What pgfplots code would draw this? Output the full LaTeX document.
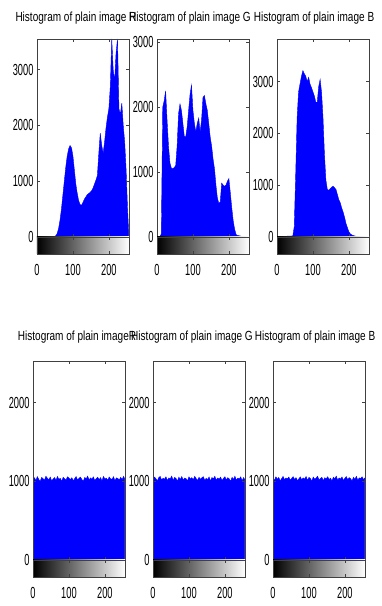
\documentclass[border=0pt]{standalone}
\usepackage{fontspec}
\setmainfont{Liberation Sans}
\newfontfamily\tickfont{Liberation Sans}[FakeStretch=0.58]
\newfontfamily\titlefont{Liberation Sans}[FakeStretch=0.76]
\usepackage{pgfplots}
\pgfplotsset{compat=1.18}
\definecolor{histblue}{RGB}{0,0,255}
\pgfplotsset{
  common/.style={
    scale only axis, width=92pt, xmin=0, xmax=256,
    axis on top,
    tick align=inside, major tick length=3pt,
    axis line style={line width=0.8pt, black!75},
    tick style={line width=0.6pt, black!75},
    /pgf/number format/assume math mode=true,
    /pgf/number format/1000 sep={},
    scaled y ticks=false, scaled x ticks=false,
    ticklabel style={font=\tickfont\fontsize{16}{16}\selectfont},
  },
  hist/.style={common, ymin=0,
    xtick={100,200}, xticklabels={}, xtick pos=both, ytick pos=both, yticklabel pos=left},
  grad/.style={common, height=17pt, ymin=0, ymax=1, ytick=\empty,
    xtick={0,100,200}, xtick pos=both, xticklabel pos=left,
    xticklabel style={yshift=-7pt}},
}
\begin{document}
\begin{tikzpicture}
\useasboundingbox (0,0) rectangle (382pt,606pt);
% ---------- titles ----------
\begin{scope}[every node/.style={font=\titlefont\fontsize{13.2}{13.2}\selectfont, anchor=base, inner sep=0pt}]
\node at (76pt,584pt) {Histogram of plain image R};
\node at (190pt,584pt) {Histogram of plain image G};
\node at (314pt,584pt) {Histogram of plain image B};
\node at (77pt,265pt) {Histogram of plain imageR};
\node at (192pt,265pt) {Histogram of plain image G};
\node at (315pt,265pt) {Histogram of plain image B};
\end{scope}
% ---------- top row: plain image ----------
\begin{axis}[hist, at={(37pt,369pt)}, anchor=south west, height=198pt, ymax=3550, ytick={0,1000,2000,3000}]
\addplot[draw=histblue, fill=histblue, line width=0.4pt] coordinates {
(0,0)(4,0)(8,0)(12,0)(16,0)(20,0)(24,0)(28,0)(32,0)(36,0)(40,0)(44,5)(48,10)(52,20)(56,60)(60,150)(64,300)(68,500)(72,750)(76,1000)(80,1250)(84,1450)(88,1580)(92,1640)(96,1600)(100,1450)(104,1200)(108,950)(112,780)(116,650)(120,580)(124,570)(128,620)(132,680)(136,720)(140,760)(144,780)(148,800)(152,830)(156,880)(160,950)(164,1020)(168,1100)(172,1500)(176,1860)(180,1650)(184,1500)(188,1700)(192,1950)(196,2150)(200,2300)(204,2700)(208,3550)(212,3000)(216,2800)(220,3300)(224,3550)(228,2300)(232,2200)(236,2400)(240,2000)(244,1700)(248,1200)(252,500)(255,100)
} \closedcycle;
\end{axis}
\begin{axis}[grad, at={(37pt,352pt)}, anchor=south west]
\fill[left color=black, right color=white] (axis cs:0,0) rectangle (axis cs:256,1);
\end{axis}

\begin{axis}[hist, at={(157pt,369pt)}, anchor=south west, height=198pt, ymax=3050, ytick={0,1000,2000,3000}]
\addplot[draw=histblue, fill=histblue, line width=0.4pt] coordinates {
(0,0)(4,0)(8,0)(12,50)(16,2000)(20,2100)(24,2250)(28,1800)(32,1400)(36,1140)(40,1060)(44,1050)(48,1070)(52,1100)(56,1400)(60,1900)(64,2050)(68,1950)(72,1750)(76,1550)(80,1540)(84,1700)(88,1950)(92,2200)(96,2340)(100,1950)(104,1750)(108,1620)(112,1750)(116,1830)(120,1620)(124,1800)(128,2150)(132,2180)(136,2050)(140,1950)(144,1750)(148,1540)(152,1400)(156,1200)(160,1050)(164,800)(168,600)(172,520)(176,540)(180,830)(184,800)(188,780)(192,800)(196,860)(200,900)(204,680)(208,450)(212,250)(216,120)(220,40)(224,20)(228,20)(232,15)(236,10)(240,10)(244,5)(248,0)(252,0)(255,0)
} \closedcycle;
\end{axis}
\begin{axis}[grad, at={(157pt,352pt)}, anchor=south west]
\fill[left color=black, right color=white] (axis cs:0,0) rectangle (axis cs:256,1);
\end{axis}

\begin{axis}[hist, at={(277pt,369pt)}, anchor=south west, height=198pt, ymax=3820, ytick={0,1000,2000,3000}]
\addplot[draw=histblue, fill=histblue, line width=0.4pt] coordinates {
(0,0)(4,10)(8,10)(12,12)(16,12)(20,15)(24,15)(28,15)(32,18)(36,18)(40,20)(44,20)(48,200)(52,1200)(56,2300)(60,2800)(64,2950)(68,3100)(72,3210)(76,3150)(80,3100)(84,3000)(88,3080)(92,2950)(96,2880)(100,2800)(104,2720)(108,2600)(112,2600)(116,2900)(120,3040)(124,2790)(128,2300)(132,1600)(136,1100)(140,920)(144,900)(148,930)(152,960)(156,980)(160,950)(164,920)(168,820)(172,720)(176,660)(180,560)(184,480)(188,380)(192,260)(196,180)(200,100)(204,60)(208,40)(212,30)(216,20)(220,15)(224,10)(228,5)(232,0)(236,0)(240,0)(244,0)(248,0)(252,0)(255,0)
} \closedcycle;
\end{axis}
\begin{axis}[grad, at={(277pt,352pt)}, anchor=south west]
\fill[left color=black, right color=white] (axis cs:0,0) rectangle (axis cs:256,1);
\end{axis}

% ---------- bottom row: cipher image ----------
\begin{axis}[hist, at={(33pt,46pt)}, anchor=south west, height=199pt, ymax=2530, ytick={0,1000,2000}]
\addplot[draw=histblue, fill=histblue, line width=0.4pt] coordinates {
(0,1030)(4,1045)(8,1010)(12,1060)(16,1025)(20,1000)(24,1050)(28,1035)(32,1015)(36,1065)(40,1040)(44,1020)(48,1055)(52,1005)(56,1030)(60,1048)(64,1012)(68,1062)(72,1027)(76,1038)(80,1002)(84,1052)(88,1033)(92,1018)(96,1058)(100,1042)(104,1022)(108,1046)(112,1008)(116,1034)(120,1061)(124,1016)(128,1039)(132,1054)(136,1024)(140,1004)(144,1049)(148,1031)(152,1066)(156,1019)(160,1043)(164,1028)(168,1057)(172,1011)(176,1036)(180,1053)(184,1021)(188,1047)(192,1006)(196,1063)(200,1029)(204,1041)(208,1014)(212,1056)(216,1032)(220,1026)(224,1059)(228,1009)(232,1044)(236,1037)(240,1017)(244,1051)(248,1023)(252,1064)(255,1035)
} \closedcycle;
\end{axis}
\begin{axis}[grad, at={(33pt,29pt)}, anchor=south west]
\fill[left color=black, right color=white] (axis cs:0,0) rectangle (axis cs:256,1);
\end{axis}

\begin{axis}[hist, at={(153pt,46pt)}, anchor=south west, height=199pt, ymax=2530, ytick={0,1000,2000}]
\addplot[draw=histblue, fill=histblue, line width=0.4pt] coordinates {
(0,1020)(4,1055)(8,1035)(12,1005)(16,1048)(20,1062)(24,1018)(28,1040)(32,1027)(36,1058)(40,1009)(44,1044)(48,1031)(52,1066)(56,1014)(60,1050)(64,1038)(68,1003)(72,1053)(76,1025)(80,1061)(84,1016)(88,1042)(92,1034)(96,1007)(100,1057)(104,1029)(108,1047)(112,1019)(116,1063)(120,1036)(124,1011)(128,1052)(132,1026)(136,1045)(140,1060)(144,1013)(148,1039)(152,1022)(156,1056)(160,1004)(164,1049)(168,1032)(172,1064)(176,1017)(180,1043)(184,1028)(188,1054)(192,1010)(196,1037)(200,1059)(204,1021)(208,1046)(212,1033)(216,1001)(220,1051)(224,1024)(228,1065)(232,1015)(236,1041)(240,1030)(244,1057)(248,1008)(252,1048)(255,1026)
} \closedcycle;
\end{axis}
\begin{axis}[grad, at={(153pt,29pt)}, anchor=south west]
\fill[left color=black, right color=white] (axis cs:0,0) rectangle (axis cs:256,1);
\end{axis}

\begin{axis}[hist, at={(273pt,46pt)}, anchor=south west, height=199pt, ymax=2530, ytick={0,1000,2000}]
\addplot[draw=histblue, fill=histblue, line width=0.4pt] coordinates {
(0,1040)(4,1012)(8,1058)(12,1026)(16,1049)(20,1006)(24,1035)(28,1063)(32,1021)(36,1044)(40,1030)(44,1055)(48,1015)(52,1038)(56,1060)(60,1024)(64,1047)(68,1009)(72,1033)(76,1057)(80,1019)(84,1045)(88,1028)(92,1062)(96,1013)(100,1050)(104,1037)(108,1003)(112,1054)(116,1027)(120,1042)(124,1065)(128,1018)(132,1036)(136,1051)(140,1010)(144,1046)(148,1031)(152,1059)(156,1023)(160,1041)(164,1005)(168,1053)(172,1034)(176,1066)(180,1016)(184,1043)(188,1029)(192,1056)(196,1011)(200,1039)(204,1061)(208,1020)(212,1048)(216,1032)(220,1007)(224,1052)(228,1025)(232,1064)(236,1014)(240,1044)(244,1036)(248,1058)(252,1022)(255,1040)
} \closedcycle;
\end{axis}
\begin{axis}[grad, at={(273pt,29pt)}, anchor=south west]
\fill[left color=black, right color=white] (axis cs:0,0) rectangle (axis cs:256,1);
\end{axis}
\end{tikzpicture}
\end{document}
